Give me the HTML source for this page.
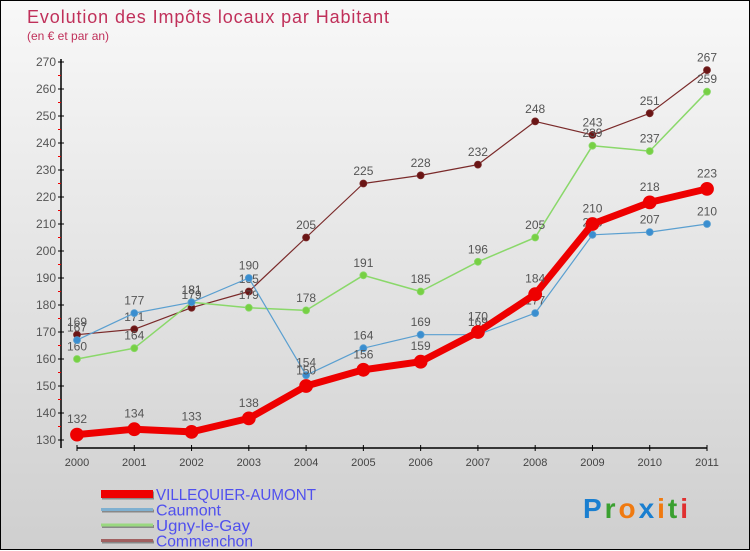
<!DOCTYPE html>
<html><head><meta charset="utf-8"><style>
body{margin:0;width:750px;height:550px;overflow:hidden;font-family:"Liberation Sans",sans-serif}
#wrap{position:relative;width:748px;height:548px;border:1px solid #000;background:linear-gradient(#f8f8f8,#cfcfcf)}
svg{position:absolute;left:0;top:0}
</style></head><body>
<div id="wrap">
<svg id="chart" width="750" height="550"></svg>
</div>
<script>
const years=["2000","2001","2002","2003","2004","2005","2006","2007","2008","2009","2010","2011"];
const villequier=[132,134,133,138,150,156,159,170,184,210,218,223];
const caumont=[167,177,181,190,154,164,169,169,177,206,207,210];
const ugny=[160,164,181,179,178,191,185,196,205,239,237,259];
const commenchon=[169,171,179,185,205,225,228,232,248,243,251,267];
const yTicks=[130,140,150,160,170,180,190,200,210,220,230,240,250,260,270];
const seriesNames=["VILLEQUIER-AUMONT","Caumont","Ugny-le-Gay","Commenchon"];
const NS="http://www.w3.org/2000/svg";
const svg=document.getElementById('chart');
const X=i=>76+i*(630/11);
const Y=v=>439-(v-130)*2.7;
function el(t,a,p){const e=document.createElementNS(NS,t);for(const k in a)e.setAttribute(k,a[k]);(p||svg).appendChild(e);return e;}
function txt(x,y,s,a,p){const t=el('text',Object.assign({x:x,y:y},a),p);t.textContent=s;return t;}
let t=txt(26,22,"Evolution des Impôts locaux par Habitant",{'font-size':18,fill:'#c0305a',textLength:362});


t=txt(26,39,"(en € et par an)",{'font-size':12,fill:'#c0305a'});


let a=el('line',{x1:60,y1:58,x2:60,y2:447,stroke:'#000','stroke-width':1.5});


a=el('line',{x1:76,y1:447,x2:706,y2:447,stroke:'#000','stroke-width':1.5});


yTicks.forEach((v,i)=>{
  el('line',{x1:57,y1:Y(v),x2:63,y2:Y(v),stroke:'#000'});
  const l=txt(55,Y(v)+4,v,{'font-size':12,fill:'#555','text-anchor':'end'});
  
  
  if(i<yTicks.length-1) el('line',{x1:57,y1:Y(v+5),x2:60,y2:Y(v+5),stroke:'#e00'});
});
years.forEach((y,i)=>{
  el('line',{x1:X(i),y1:444,x2:X(i),y2:450,stroke:'#000'});
  const l=txt(X(i),465,y,{'font-size':11,fill:'#444','text-anchor':'middle'});
  
  
});
function series(data,color,w,r,fill,name){
  const g=el('g',{});
  
  
  el('polyline',{points:data.map((v,i)=>X(i)+','+Y(v)).join(' '),fill:'none',stroke:color,'stroke-width':w,'stroke-linejoin':'round'},g);
  data.forEach((v,i)=>{
    const c=el('circle',{cx:X(i),cy:Y(v),r:r,fill:fill,stroke:color,'stroke-width':0.8},g);
    
    
    const l=txt(X(i),Y(v)-r-5,v,{'font-size':12,fill:'#555','text-anchor':'middle'},g);
    
    
  });
}
series(commenchon,'#7a2a2a',1.2,3.5,'#6a1515','series-commenchon');
series(ugny,'#8ad86a',1.5,3.5,'#77d044','series-ugny-le-gay');
series(caumont,'#5a9fd0',1.2,3.5,'#3a8ed0','series-caumont');
series(villequier,'#ee0000',7,6.5,'#ee0000','series-villequier-aumont');
const lc=['#ee0000','#7fb0d0','#9ad880','#a06060'];
const lw=[8,3,3,3];
const tl=[160,65,94,97];
seriesNames.forEach((n,i)=>{
  const g=el('g',{});
  
  
  const y=493+i*15.5;
  el('line',{x1:101,y1:y+1.5,x2:153,y2:y+1.5,stroke:'#888','stroke-width':lw[i]},g);
  el('line',{x1:100,y1:y,x2:152,y2:y,stroke:lc[i],'stroke-width':lw[i]},g);
  txt(155,y+6,n,{'font-size':16,fill:'#5050ee',textLength:tl[i],lengthAdjust:'spacingAndGlyphs'},g);
});
const logo=el('text',{x:582,y:517,'font-size':28,'font-weight':'bold',textLength:105});


[['P','#1a7fd0'],['r','#3aa030'],['o','#f07a10'],['x','#1a7fd0'],['i','#f07a10'],['t','#3aa030'],['i','#e03030']].forEach(([c,f])=>{const s=el('tspan',{fill:f},logo);s.textContent=c;});
</script>
</body></html>
